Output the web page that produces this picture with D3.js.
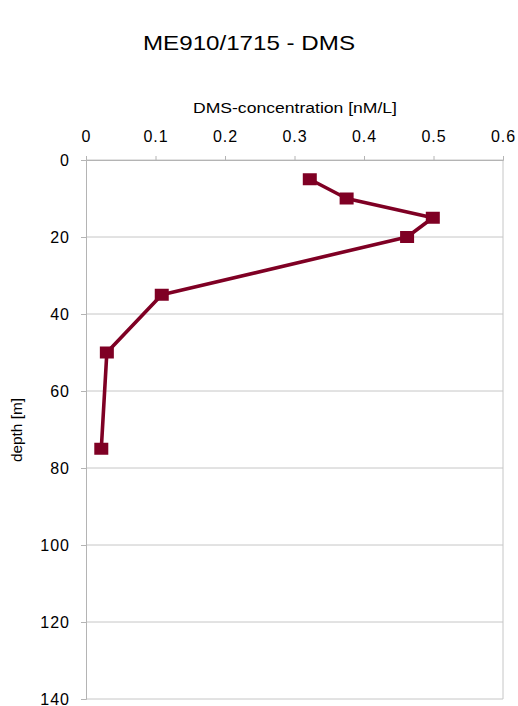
<!DOCTYPE html>
<html>
<head>
<meta charset="utf-8">
<script src="https://cdn.jsdelivr.net/npm/d3@7"></script>
<style>
  body { margin: 0; background: #fff; }
  text { font-family: "Liberation Sans", Arial, sans-serif; fill: #000; }
</style>
</head>
<body>
<script>
// DMS profile, station ME910/1715
let depths = [5, 10, 15, 20, 35, 50, 75];
let dms = [0.322, 0.375, 0.499, 0.462, 0.109, 0.030, 0.022];
let xTicks = [0, 0.1, 0.2, 0.3, 0.4, 0.5, 0.6];
let yTicks = [0, 20, 40, 60, 80, 100, 120, 140];

let W = 518, H = 706;
let plotL = 86, plotR = 503, plotT = 160, plotB = 699;

let svg = d3.select("body")
    .append("svg")
    .attr("width", W)
    .attr("height", H);

let x = d3.scaleLinear().domain([0, 0.6]).range([plotL, plotR]);
let y = d3.scaleLinear().domain([0, 140]).range([plotT, plotB]);

// horizontal gridlines
svg.append("g")
    .selectAll("line")
    .data(yTicks)
    .join("line")
    .attr("x1", plotL)
    .attr("x2", plotR)
    .attr("y1", d => y(d))
    .attr("y2", d => y(d))
    .attr("stroke", "#c6c6c6")
    .attr("stroke-width", 1);

// right border
svg.append("line")
    .attr("x1", plotR).attr("x2", plotR)
    .attr("y1", plotT).attr("y2", plotB)
    .attr("stroke", "#c6c6c6");

// top axis
let xAxis = svg.append("g")
    .attr("transform", `translate(0,${plotT})`)
    .call(d3.axisTop(x).tickValues(xTicks).tickFormat(d3.format("")).tickSize(4).tickPadding(14));
xAxis.select(".domain").attr("stroke", "#b4b4b4");
xAxis.selectAll(".tick line").attr("stroke", "#b4b4b4");
xAxis.selectAll("text")
    .style("font-size", "16px")
    .style("letter-spacing", "1px")
    .attr("fill", "#000");

// left axis
let yAxis = svg.append("g")
    .attr("transform", `translate(${plotL},0)`)
    .call(d3.axisLeft(y).tickValues(yTicks).tickSize(5).tickPadding(11));
yAxis.select(".domain").attr("stroke", "#b4b4b4");
yAxis.selectAll(".tick line").attr("stroke", "#b4b4b4");
yAxis.selectAll("text")
    .style("font-size", "16px")
    .style("letter-spacing", "1px")
    .attr("fill", "#000");

// titles
svg.append("text")
    .attr("x", 249).attr("y", 50)
    .attr("text-anchor", "middle")
    .attr("textLength", 212)
    .attr("lengthAdjust", "spacingAndGlyphs")
    .style("font-size", "21px")
    .text("ME910/1715 - DMS");

svg.append("text")
    .attr("x", 295).attr("y", 113)
    .attr("text-anchor", "middle")
    .attr("textLength", 204)
    .attr("lengthAdjust", "spacingAndGlyphs")
    .style("font-size", "14px")
    .text("DMS-concentration [nM/L]");

svg.append("text")
    .attr("transform", "translate(22,430) rotate(-90)")
    .attr("text-anchor", "middle")
    .attr("textLength", 64)
    .attr("lengthAdjust", "spacingAndGlyphs")
    .style("font-size", "14px")
    .text("depth [m]");

// profile line
let pts = depths.map((d, i) => [dms[i], d]);
let line = d3.line().x(d => x(d[0])).y(d => y(d[1]));

svg.append("path")
    .attr("d", line(pts))
    .attr("fill", "none")
    .attr("stroke", "#7f0024")
    .attr("stroke-width", 3.6)
    .attr("stroke-linejoin", "round");

svg.append("g")
    .selectAll("rect")
    .data(pts)
    .join("rect")
    .attr("x", d => x(d[0]) - 7)
    .attr("y", d => y(d[1]) - 6)
    .attr("width", 14)
    .attr("height", 12)
    .attr("fill", "#7f0024");
</script>
</body>
</html>
